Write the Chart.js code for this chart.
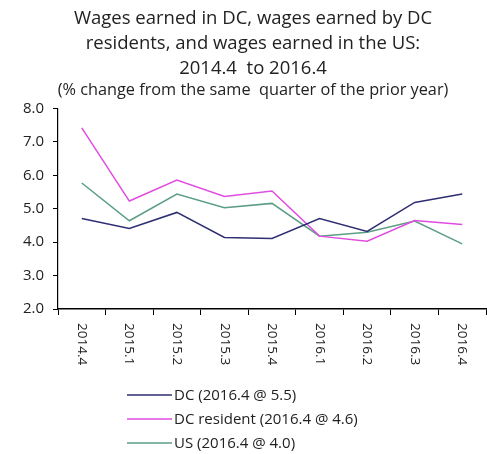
<!DOCTYPE html>
<html>
<head>
<meta charset="utf-8">
<script src="https://cdn.jsdelivr.net/npm/chart.js@4"></script>
<style>
  html, body { margin: 0; padding: 0; background: #fff; }
  #wrap { width: 487px; height: 454px; position: relative; }
</style>
</head>
<body>
<div id="wrap"><canvas id="wages"></canvas></div>
<script>
(function () {
  'use strict';

  // Data
  var quarters = ['2014.4', '2015.1', '2015.2', '2015.3', '2015.4', '2016.1', '2016.2', '2016.3', '2016.4'];
  var dcValues = [4.71, 4.41, 4.89, 4.14, 4.11, 4.71, 4.32, 5.19, 5.44];
  var residentValues = [7.42, 5.23, 5.86, 5.37, 5.53, 4.18, 4.03, 4.65, 4.53];
  var usValues = [5.77, 4.64, 5.44, 5.03, 5.16, 4.18, 4.30, 4.63, 3.95];
  var seriesLabels = ['DC (2016.4 @ 5.5)', 'DC resident (2016.4 @ 4.6)', 'US (2016.4 @ 4.0)'];
  var titleLines = ['Wages earned in DC, wages earned by DC', 'residents, and wages earned in the US:', '2014.4  to 2016.4'];
  var subtitleText = '(% change from the same  quarter of the prior year)';

  var colors = {
    dc: '#2e2e72',
    resident: '#e04ce0',
    us: '#5b9e84',
    text: '#222222'
  };

  var fontFamily = "'Open Sans', 'DejaVu Sans', sans-serif";

  // x labels read top-to-bottom, drawn by hand
  var rotatedLabels = {
    id: 'rotatedLabels',
    afterDraw: function (chart) {
      var ctx = chart.ctx;
      var xs = chart.scales.x;
      ctx.save();
      ctx.font = '13.5px ' + fontFamily;
      ctx.fillStyle = colors.text;
      ctx.textAlign = 'left';
      ctx.textBaseline = 'middle';
      quarters.forEach(function (q, i) {
        ctx.save();
        ctx.translate(xs.getPixelForValue(i), xs.top + 14);
        ctx.rotate(Math.PI / 2);
        ctx.fillText(q, 0, 0);
        ctx.restore();
      });
      ctx.restore();
    }
  };

  // vertical legend below the axis
  var stackedLegend = {
    id: 'stackedLegend',
    afterDraw: function (chart) {
      var ctx = chart.ctx;
      ctx.save();
      ctx.font = '15px ' + fontFamily;
      ctx.fillStyle = colors.text;
      ctx.textBaseline = 'middle';
      chart.data.datasets.forEach(function (ds, i) {
        var y = 395 + i * 24;
        ctx.strokeStyle = ds.borderColor;
        ctx.lineWidth = 1.5;
        ctx.beginPath();
        ctx.moveTo(127, y);
        ctx.lineTo(172, y);
        ctx.stroke();
        ctx.fillText(ds.label, 174, y + 1);
      });
      ctx.restore();
    }
  };

  function lineSet(label, data, color) {
    return {
      label: label,
      data: data,
      borderColor: color,
      backgroundColor: color,
      borderWidth: 1.5,
      pointRadius: 0,
      tension: 0,
      fill: false
    };
  }

  new Chart(document.getElementById('wages').getContext('2d'), {
    type: 'line',
    data: {
      labels: quarters,
      datasets: [
        lineSet(seriesLabels[0], dcValues, colors.dc),
        lineSet(seriesLabels[1], residentValues, colors.resident),
        lineSet(seriesLabels[2], usValues, colors.us)
      ]
    },
    options: {
      responsive: true,
      maintainAspectRatio: false,
      animation: false,
      layout: { padding: { left: 20, right: 1, top: 6, bottom: 139 } },
      plugins: {
        legend: { display: false },
        tooltip: { enabled: false },
        title: {
          display: true,
          text: titleLines,
          color: colors.text,
          font: { family: fontFamily, size: 18.5, weight: 'normal', lineHeight: 1.35 },
          padding: { top: 0, bottom: 0 }
        },
        subtitle: {
          display: true,
          text: subtitleText,
          color: colors.text,
          font: { family: fontFamily, size: 16.3, weight: 'normal', lineHeight: 1.2 },
          padding: { top: 0, bottom: 8 }
        }
      },
      scales: {
        x: {
          offset: true,
          grid: { display: true, drawOnChartArea: false, drawTicks: true, tickLength: 6, color: '#000', offset: true },
          border: { display: true, color: '#000', width: 1.5 },
          ticks: { display: false }
        },
        y: {
          min: 2,
          max: 8,
          afterFit: function (scale) { scale.width = 38; },
          grid: { drawOnChartArea: false, drawTicks: true, tickLength: 5, color: '#000' },
          border: { display: true, color: '#000', dash: [2, 1], width: 1.2 },
          ticks: {
            stepSize: 1,
            padding: 9,
            color: colors.text,
            font: { family: fontFamily, size: 15 },
            callback: function (v) { return v.toFixed(1); }
          }
        }
      }
    },
    plugins: [rotatedLabels, stackedLegend]
  });
})();
</script>
</body>
</html>
